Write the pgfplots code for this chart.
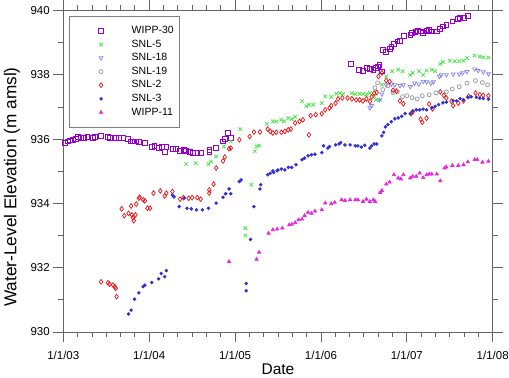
\documentclass[border=0pt]{standalone}
\usepackage{pgfplots}
\pgfplotsset{compat=1.18}
\usepackage{fontspec}
\setmainfont{Liberation Sans}
\definecolor{cWa}{RGB}{153,0,204}
\definecolor{cSa}{RGB}{60,230,60}
\definecolor{cSb}{RGB}{130,130,240}
\definecolor{cSc}{RGB}{150,150,150}
\definecolor{cSd}{RGB}{230,20,20}
\definecolor{cSe}{RGB}{50,50,210}
\definecolor{cWb}{RGB}{230,40,220}
\definecolor{axgray}{RGB}{100,100,100}
\begin{document}
\begin{tikzpicture}
\begin{axis}[
  at={(0,0)}, anchor=south west,
  scale only axis, width=429.4bp, height=321.5bp,
  xmin=2003, xmax=2008, ymin=930, ymax=940,
  xtick={2003,2004,2005,2006,2007,2008},
  xticklabels={1/1/03,1/1/04,1/1/05,1/1/06,1/1/07,1/1/08},
  minor x tick num=5,
  ytick={930,932,934,936,938,940},
  minor y tick num=1,
  tick align=outside,
  major tick length=10bp, minor tick length=5bp,
  tick style={axgray, line width=0.8bp},
  axis line style={axgray, line width=0.9bp},
  ticklabel style={font=\fontsize{11.5bp}{13bp}\selectfont},
  xticklabel style={yshift=-6bp},
  /pgf/number format/assume math mode=true,
  yticklabel style={/pgf/number format/.cd, fixed, 1000 sep={}},
  xlabel={Date}, ylabel={Water-Level Elevation (m amsl)},
  xlabel style={font=\fontsize{15.5bp}{17bp}\selectfont, at={(axis description cs:0.5,-0.115)}, anchor=center},
  ylabel style={font=\fontsize{17.2bp}{19bp}\selectfont, at={(axis description cs:-0.1195,0.451)}, anchor=center},
  legend style={at={(axis description cs:0.014,0.984)}, anchor=north west,
    draw=gray, line width=0.8bp, inner xsep=5bp, inner ysep=9bp, row sep=2.1bp,
    font=\fontsize{10.5bp}{12bp}\selectfont,
    nodes={inner sep=1bp, text height=7.5bp, text depth=2bp}},
  legend cell align=left,
  mk/.style={only marks, line width=0.7bp,
    legend image code/.code={\path[draw=none] (0bp,0bp) -- (56bp,0bp); \draw[mark repeat=2,mark phase=2,##1] plot coordinates {(0bp,0bp) (26.4bp,0bp) (52.8bp,0bp)};}},
]
\addplot[mk, cWa, mark=square, mark size=2.4bp] coordinates {
(2003.02,935.89)(2003.05,935.93)(2003.08,935.96)(2003.11,935.98)(2003.15,936.01)(2003.17,936.06)(2003.20,936.03)(2003.24,936.05)(2003.28,936.08)(2003.34,936.05)(2003.37,936.06)(2003.44,936.10)(2003.52,936.06)(2003.54,936.05)(2003.61,936.05)(2003.65,936.05)(2003.70,936.03)(2003.75,936.00)(2003.78,935.93)(2003.81,935.93)(2003.85,935.93)(2003.88,935.92)(2003.95,935.89)(2004.03,935.77)(2004.06,935.80)(2004.11,935.72)(2004.15,935.77)(2004.18,935.61)(2004.20,935.77)(2004.28,935.69)(2004.31,935.69)(2004.36,935.64)(2004.40,935.67)(2004.43,935.64)(2004.47,935.61)(2004.51,935.58)(2004.56,935.56)(2004.60,935.56)(2004.70,935.61)(2004.70,935.67)(2004.78,935.74)(2004.86,935.93)(2004.88,936.00)(2004.92,936.19)(2004.95,936.05)
(2006.35,938.35)(2006.44,938.16)(2006.49,938.13)(2006.53,938.21)(2006.57,938.18)(2006.61,938.16)(2006.64,938.21)(2006.66,938.26)(2006.68,938.31)(2006.71,938.11)(2006.72,938.78)(2006.76,938.71)(2006.80,938.80)(2006.82,938.88)(2006.85,938.96)(2006.89,939.04)(2006.92,939.06)(2006.97,939.22)(2007.04,939.25)(2007.06,939.30)(2007.10,939.33)(2007.13,939.36)(2007.16,939.35)(2007.19,939.30)(2007.23,939.37)(2007.26,939.40)(2007.28,939.35)(2007.35,939.35)(2007.38,939.43)(2007.42,939.51)(2007.46,939.56)(2007.53,939.66)(2007.59,939.75)(2007.62,939.76)(2007.66,939.77)(2007.71,939.84)
};
\addlegendentry{WIPP-30}
\addplot[mk, cSa, mark=x, mark size=2.5bp] coordinates {
(2004.43,935.23)(2004.54,935.25)(2004.69,935.22)(2004.72,935.30)(2004.78,935.46)(2004.87,935.77)(2004.95,935.93)(2005.06,936.31)(2005.12,933.23)(2005.12,933.00)(2005.19,934.58)(2005.23,935.62)(2005.25,935.77)(2005.28,935.80)(2005.37,936.48)(2005.44,936.55)(2005.48,936.55)(2005.54,936.60)(2005.57,936.55)(2005.62,936.65)(2005.66,936.62)(2005.70,936.69)(2005.78,937.18)(2005.83,937.02)(2005.86,937.07)(2005.91,937.07)(2006.01,937.12)(2006.05,937.33)(2006.12,937.31)(2006.18,937.41)(2006.22,937.43)(2006.26,937.41)(2006.36,937.43)(2006.40,937.40)(2006.45,937.41)(2006.49,937.41)(2006.53,937.38)(2006.57,937.43)(2006.62,937.33)(2006.64,937.22)(2006.69,937.22)(2006.71,937.69)(2006.76,937.95)(2006.83,938.11)(2006.90,938.16)(2006.95,938.11)(2007.04,938.00)(2007.07,938.06)(2007.14,938.11)(2007.19,938.00)(2007.23,938.13)(2007.29,938.16)(2007.33,938.11)(2007.39,938.34)(2007.42,938.40)(2007.50,938.44)(2007.56,938.42)(2007.61,938.42)(2007.66,938.44)(2007.70,938.52)(2007.79,938.60)(2007.85,938.57)(2007.89,938.54)(2007.95,938.54)
};
\addlegendentry{SNL-5}
\addplot[mk, cSb, mark=triangle, mark size=2.3bp, mark options={rotate=180}] coordinates {
(2006.57,936.97)(2006.59,937.04)(2006.68,937.22)(2006.71,937.40)(2006.76,937.69)(2006.82,937.71)(2006.86,937.69)(2006.92,937.66)(2006.96,937.69)(2007.04,937.63)(2007.09,937.74)(2007.14,937.71)(2007.19,937.79)(2007.23,937.78)(2007.28,937.74)(2007.31,937.78)(2007.38,937.95)(2007.40,938.00)(2007.46,938.00)(2007.54,938.02)(2007.61,938.02)(2007.65,938.06)(2007.70,938.10)(2007.79,938.18)(2007.83,938.13)(2007.89,938.09)(2007.95,938.03)
};
\addlegendentry{SNL-18}
\addplot[mk, cSc, mark=o, mark size=2bp] coordinates {
(2006.63,937.60)(2006.66,937.75)(2006.72,937.54)(2006.78,937.66)(2006.84,937.44)(2006.89,937.47)(2006.95,937.32)(2007.00,937.35)(2007.06,937.29)(2007.12,937.25)(2007.18,937.35)(2007.26,937.38)(2007.34,937.44)(2007.46,937.47)(2007.53,937.56)(2007.61,937.63)(2007.70,937.74)(2007.80,937.82)(2007.88,937.76)(2007.94,937.69)
};
\addlegendentry{SNL-19}
\addplot[mk, cSd, mark=diamond, mark size=2.4bp] coordinates {
(2003.44,931.56)(2003.52,931.53)(2003.54,931.49)(2003.58,931.46)(2003.60,931.41)(2003.61,931.36)(2003.62,931.10)
(2003.68,933.83)(2003.71,933.62)(2003.76,933.69)(2003.79,933.92)(2003.80,933.64)(2003.81,933.56)(2003.82,933.46)(2003.84,933.64)(2003.85,933.98)(2003.88,934.16)(2003.89,934.19)(2003.93,934.11)(2003.95,934.08)(2003.98,933.85)(2004.01,933.85)(2004.05,934.32)(2004.13,934.39)(2004.18,934.23)(2004.20,934.32)(2004.27,934.37)(2004.36,934.13)(2004.40,934.18)(2004.46,934.16)(2004.50,934.18)(2004.56,934.18)(2004.60,934.13)(2004.70,934.32)(2004.70,934.42)(2004.75,934.60)(2004.78,935.10)(2004.86,935.32)(2004.88,935.44)(2004.93,935.70)(2004.95,935.72)(2005.05,935.98)(2005.17,936.08)(2005.22,936.22)(2005.29,936.22)(2005.38,936.31)(2005.41,936.24)(2005.44,936.19)(2005.48,936.21)(2005.54,936.21)(2005.58,936.24)(2005.62,936.29)(2005.65,936.31)(2005.70,936.50)(2005.75,936.55)(2005.79,936.60)(2005.86,936.13)(2005.88,936.73)(2005.94,936.76)(2006.01,936.79)(2006.05,936.91)(2006.10,936.97)(2006.12,937.04)(2006.17,937.12)(2006.20,937.25)(2006.25,937.28)(2006.31,937.28)(2006.36,937.25)(2006.41,937.22)(2006.45,937.22)(2006.49,937.19)(2006.53,937.25)(2006.57,937.17)(2006.59,937.31)(2006.62,937.43)(2006.65,937.45)(2006.67,937.95)(2006.71,938.06)(2006.76,937.82)(2006.80,937.79)(2006.84,937.52)(2006.88,937.49)(2006.92,937.19)(2006.96,937.10)(2007.05,936.79)(2007.07,936.85)(2007.16,936.62)(2007.18,936.52)(2007.23,936.65)(2007.26,937.09)(2007.30,936.94)(2007.39,937.47)(2007.43,937.36)(2007.46,937.28)(2007.52,937.18)(2007.54,937.04)(2007.60,937.12)(2007.66,937.19)(2007.72,937.33)(2007.80,937.43)(2007.85,937.38)(2007.89,937.36)(2007.95,937.35)
};
\addlegendentry{SNL-2}
\addplot[mk, cSe, mark=*, mark size=1.4bp] coordinates {
(2003.76,930.56)(2003.79,930.68)(2003.83,931.02)(2003.88,931.22)(2003.93,931.41)(2003.95,931.46)(2004.03,931.54)(2004.11,931.65)(2004.14,931.82)(2004.18,931.72)(2004.20,931.91)
(2004.27,934.26)(2004.29,934.20)(2004.35,933.90)(2004.41,934.17)(2004.44,933.85)(2004.49,933.83)(2004.55,933.80)(2004.62,933.80)(2004.69,933.85)(2004.78,934.01)(2004.86,934.19)(2004.89,934.30)(2004.93,934.45)(2004.95,934.30)(2005.05,934.68)(2005.07,934.73)(2005.13,931.51)(2005.13,931.28)(2005.18,932.88)(2005.22,933.90)(2005.29,934.45)(2005.30,934.58)(2005.38,934.89)(2005.44,935.01)(2005.49,935.02)(2005.41,934.94)(2005.45,934.96)(2005.50,935.04)(2005.54,935.07)(2005.58,935.04)(2005.62,935.12)(2005.66,935.12)(2005.71,935.20)(2005.78,935.36)(2005.81,935.41)(2005.85,935.48)(2005.89,935.51)(2005.93,935.53)(2006.01,935.58)(2006.03,935.79)(2006.08,935.72)(2006.10,935.77)(2006.17,935.82)(2006.21,935.85)(2006.23,935.89)(2006.28,935.82)(2006.34,935.82)(2006.40,935.79)(2006.43,935.79)(2006.47,935.75)(2006.51,935.81)(2006.57,935.72)(2006.59,935.79)(2006.62,935.85)(2006.65,935.85)(2006.71,936.10)(2006.73,936.21)(2006.75,936.38)(2006.78,936.45)(2006.82,936.54)(2006.86,936.63)(2006.90,936.66)(2006.94,936.71)(2006.98,936.79)(2007.04,936.79)(2007.07,936.87)(2007.11,936.91)(2007.15,936.91)(2007.19,936.93)(2007.23,936.91)(2007.29,936.97)(2007.33,937.02)(2007.37,937.07)(2007.42,937.13)(2007.46,937.15)(2007.54,937.19)(2007.58,937.19)(2007.62,937.26)(2007.66,937.22)(2007.71,937.30)(2007.75,937.32)(2007.81,937.30)(2007.85,937.27)(2007.89,937.26)(2007.95,937.24)
};
\addlegendentry{SNL-3}
\addplot[mk, cWb, mark=triangle*, mark size=1.9bp] coordinates {
(2004.93,932.19)(2005.25,932.26)(2005.28,932.48)(2005.39,933.07)(2005.44,933.18)(2005.49,933.20)(2005.55,933.23)(2005.63,933.33)(2005.66,933.35)(2005.70,933.40)(2005.74,933.49)(2005.78,933.51)(2005.81,933.62)(2005.85,933.72)(2005.89,933.69)(2005.93,933.76)(2006.01,933.80)(2006.05,934.01)(2006.12,933.99)(2006.16,934.03)(2006.24,934.11)(2006.28,934.09)(2006.34,934.11)(2006.40,934.11)(2006.43,934.11)(2006.49,934.06)(2006.53,934.13)(2006.57,934.06)(2006.61,934.11)(2006.63,934.06)(2006.69,934.34)(2006.71,934.40)(2006.76,934.60)(2006.80,934.66)(2006.85,934.89)(2006.90,934.79)(2006.93,934.76)(2006.96,934.89)(2007.04,934.79)(2007.07,934.84)(2007.11,934.84)(2007.15,934.94)(2007.19,934.80)(2007.23,934.89)(2007.26,934.91)(2007.29,934.91)(2007.35,934.91)(2007.39,934.70)(2007.44,935.10)(2007.46,935.13)(2007.53,935.18)(2007.60,935.18)(2007.66,935.20)(2007.71,935.29)(2007.79,935.36)(2007.82,935.36)(2007.88,935.28)(2007.95,935.31)
};
\addlegendentry{WIPP-11}
\end{axis}
\pgfresetboundingbox
\path[use as bounding box] (-63.3bp,-46bp) rectangle (445.7bp,332bp);
\end{tikzpicture}
\end{document}
